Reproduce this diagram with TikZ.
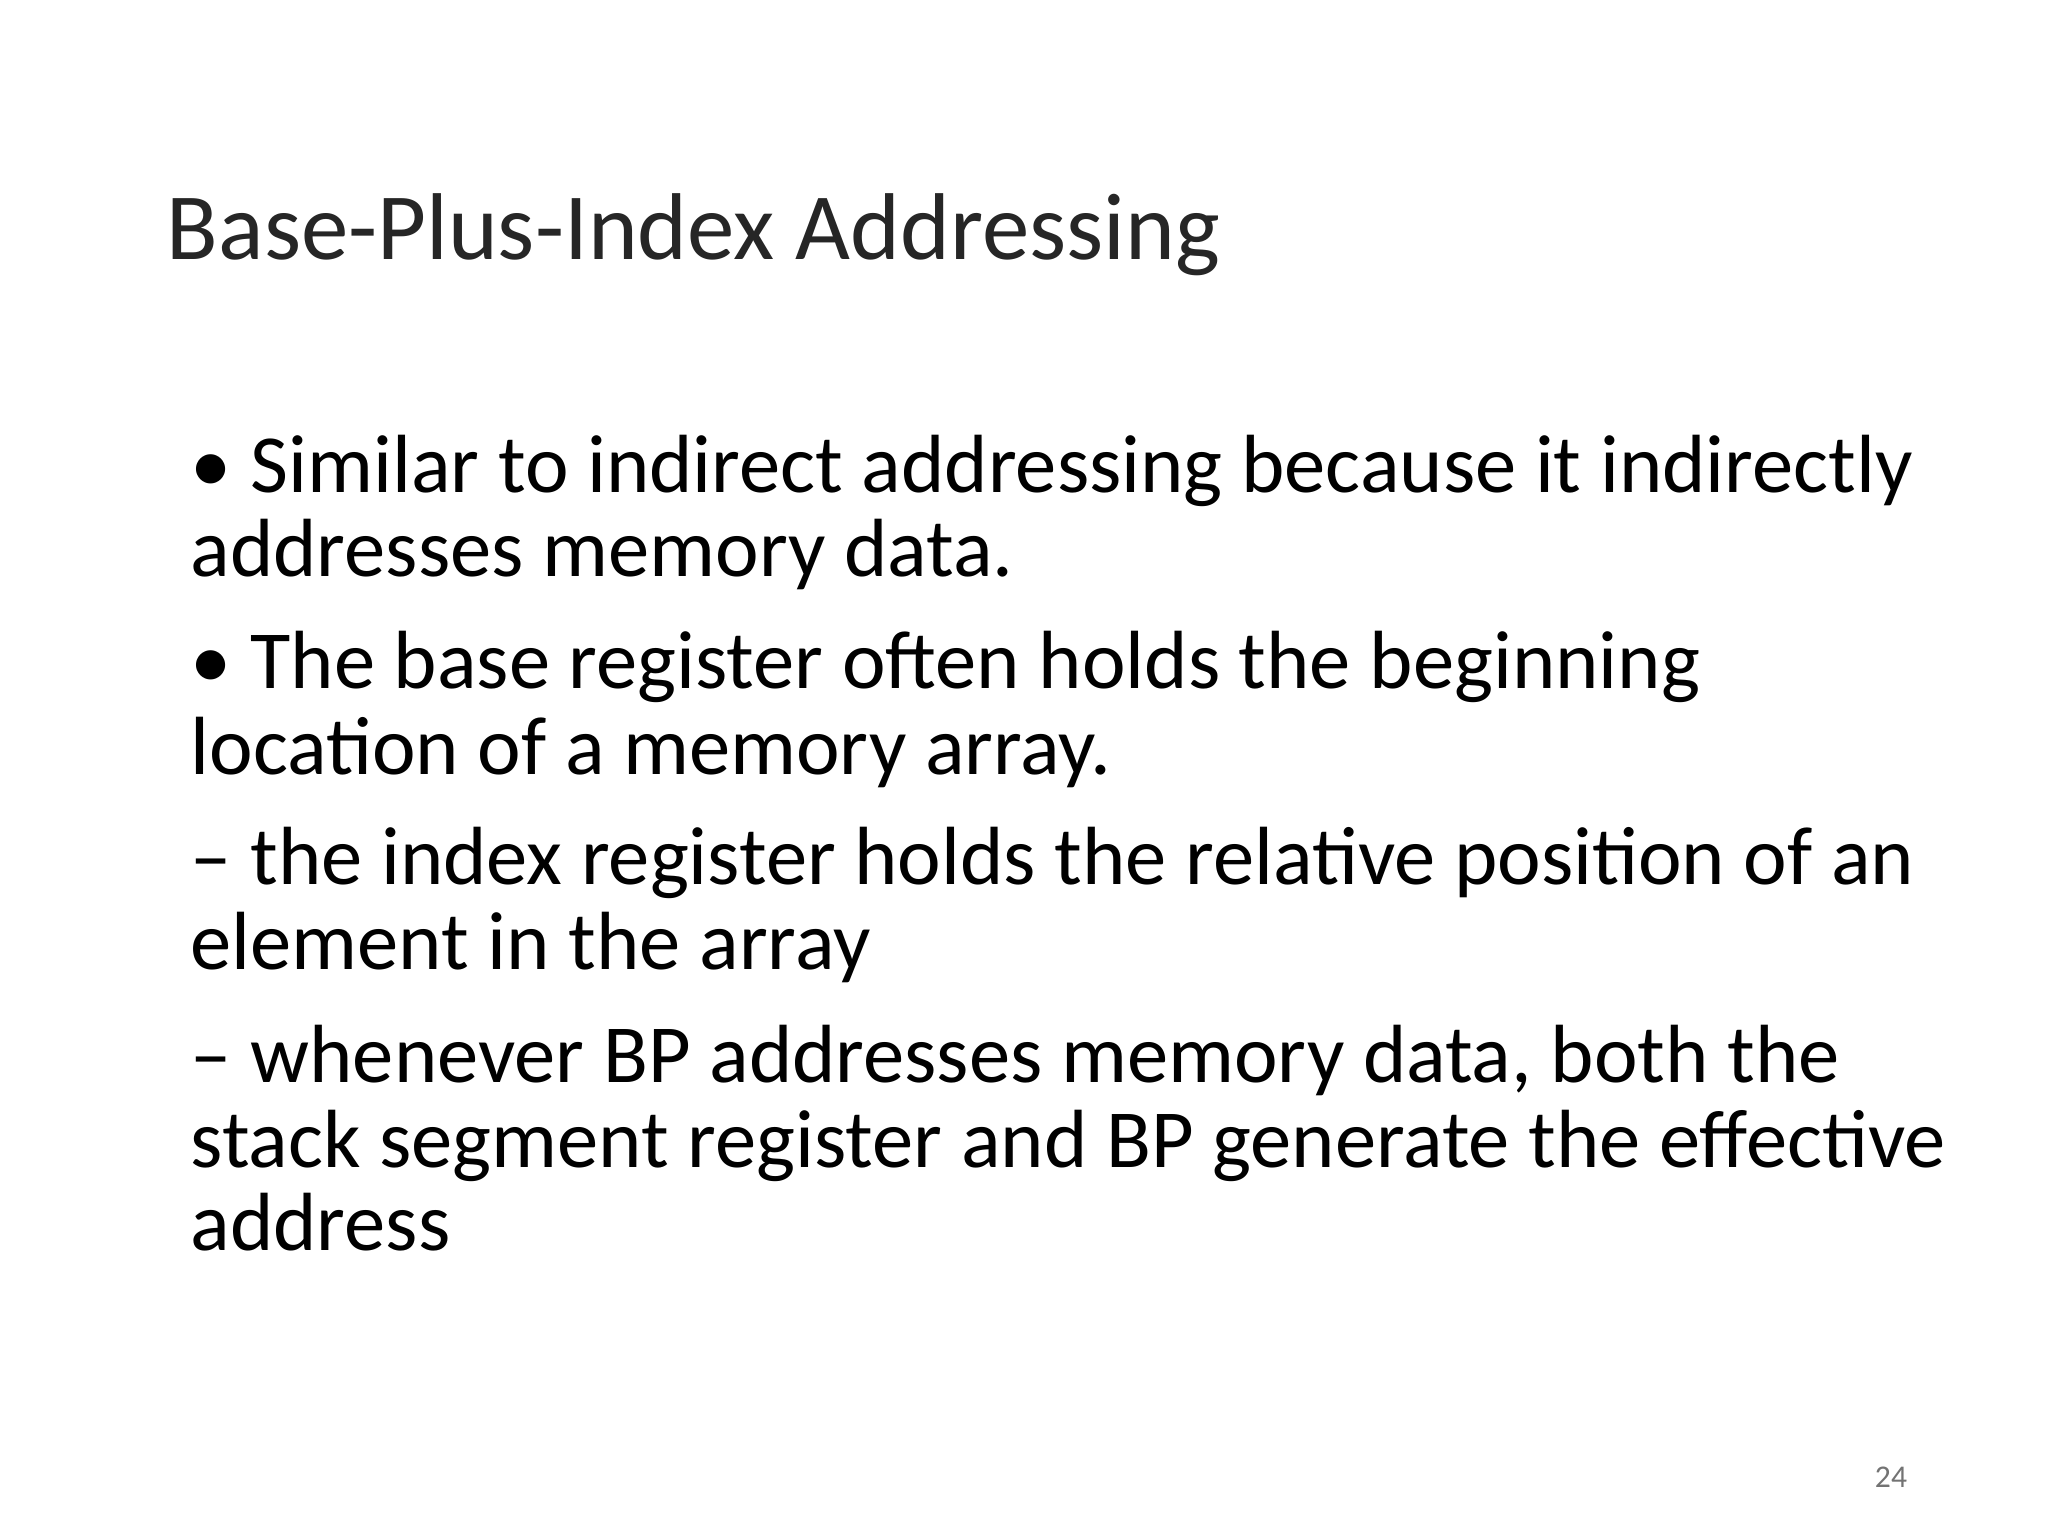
\documentclass[tikz,border=0pt]{standalone}
\usepackage{fontspec}
\setmainfont{Carlito}
\begin{document}
\begin{tikzpicture}[x=0.013196cm,y=-0.013196cm,
  body/.style={anchor=base west,inner sep=0pt,font=\fontsize{23.5}{28}\selectfont}]
\useasboundingbox[fill=white] (0,0) rectangle (1552,1164);
\node[anchor=base west,inner sep=0pt,font=\fontsize{27}{32}\selectfont,text=black!85] (title) at (126,197) {Base-Plus-Index Addressing};
\node[body] (l1) at (144,373) {\textbullet\ Similar to indirect addressing because it indirectly};
\node[body] (l2) at (144,437) {addresses memory data.};
\node[body] (l3) at (144,522) {\textbullet\ The base register often holds the beginning};
\node[body] (l4) at (144,587) {location of a memory array.};
\node[body] (l5) at (144,670) {-- the index register holds the relative position of an};
\node[body] (l6) at (144,735) {element in the array};
\node[body] (l7) at (144,820) {-- whenever BP addresses memory data, both the};
\node[body] (l8) at (144,885) {stack segment register and BP generate the effective};
\node[body] (l9) at (144,948) {address};
\node[anchor=base,inner sep=0pt,font=\fontsize{9}{11}\selectfont,text=black!55] (pg) at (1433,1127) {24};
\end{tikzpicture}
\end{document}
